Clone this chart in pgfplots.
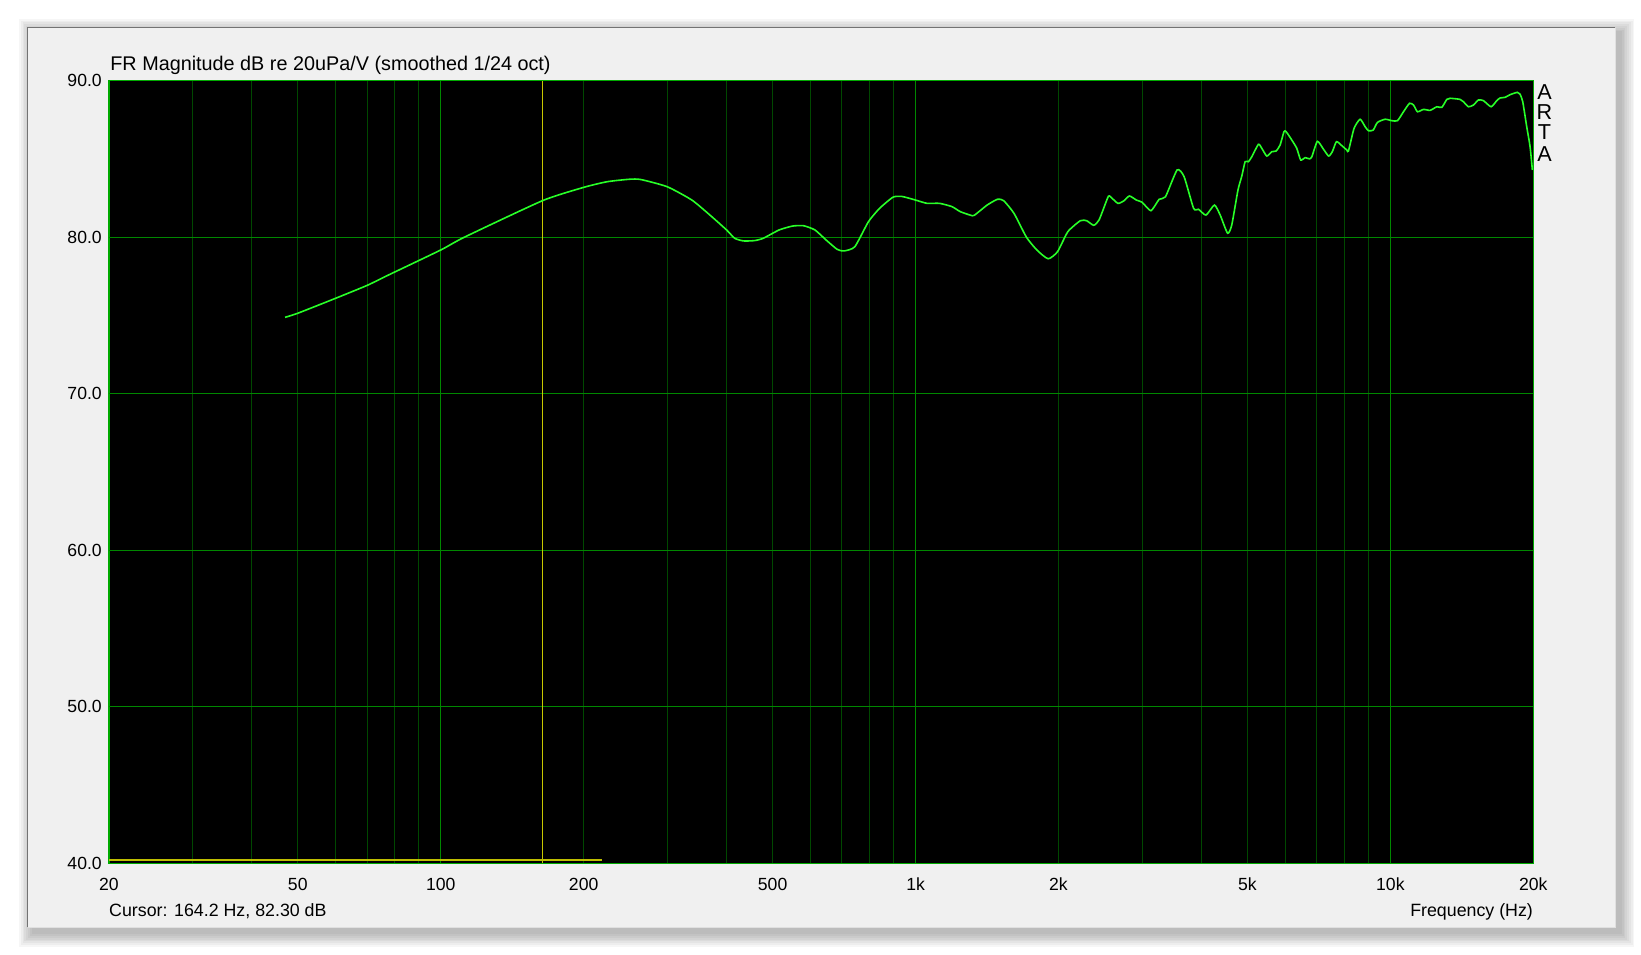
\documentclass[border=0pt]{standalone}
\usepackage{fontspec}
\setmainfont{Liberation Sans}
\usepackage{pgfplots}
\pgfplotsset{compat=1.18}
\definecolor{panel}{RGB}{240,240,240}
\definecolor{gridmin}{RGB}{0,72,0}
\definecolor{gridmaj}{RGB}{0,135,0}
\definecolor{framegreen}{RGB}{0,170,0}
\definecolor{curvegreen}{RGB}{40,255,40}
\definecolor{cursoryellow}{RGB}{200,200,0}
\definecolor{bandyellow}{RGB}{190,190,0}

\pgfplotstableread{
f dB
47.0 74.88
50 75.14
60 76.09
70 76.92
77.6 77.58
100 79.18
112.2 80.00
163.8 82.33
200 83.18
224 83.54
250 83.70
264 83.68
300 83.22
338 82.37
369 81.41
400 80.46
416 79.93
434 79.76
458 79.78
478 79.93
516 80.46
551 80.71
581 80.73
614 80.46
648 79.82
684 79.22
707 79.12
745 79.39
796 80.99
840 81.84
896 82.55
936 82.60
1000 82.37
1057 82.16
1123 82.16
1193 81.95
1242 81.63
1306 81.40
1330 81.40
1415 82.05
1488 82.42
1533 82.33
1612 81.52
1712 80.00
1801 79.18
1902 78.62
1991 79.07
2093 80.35
2223 81.05
2293 81.05
2372 80.76
2435 81.10
2536 82.48
2562 82.63
2667 82.16
2749 82.33
2821 82.63
2918 82.37
3000 82.23
3131 81.69
3259 82.42
3360 82.58
3555 84.29
3678 83.86
3851 81.84
3945 81.78
4090 81.41
4260 82.05
4381 81.41
4541 80.25
4634 80.78
4776 83.02
4865 83.90
4944 84.82
5023 84.82
5107 85.14
5273 85.93
5359 85.68
5492 85.18
5626 85.46
5744 85.50
5857 85.88
5970 86.74
6031 86.74
6198 86.21
6350 85.68
6474 84.93
6614 85.08
6755 85.00
6833 85.14
7019 86.12
7228 85.62
7415 85.18
7547 85.46
7700 86.10
7898 85.85
8093 85.57
8159 85.50
8385 86.95
8634 87.53
8846 87.06
8990 86.80
9200 86.84
9392 87.33
9751 87.53
10070 87.44
10350 87.44
10656 88.01
10972 88.55
11186 88.44
11404 88.01
11740 88.16
12126 88.10
12527 88.33
12833 88.29
13147 88.80
13360 88.87
14025 88.80
14250 88.65
14600 88.33
14958 88.44
15325 88.76
15700 88.72
16296 88.33
16751 88.72
17025 88.89
17440 88.93
17867 89.10
18514 89.25
18750 89.14
19000 88.65
19370 87.06
19690 85.78
19910 84.29
}\frdata

\begin{document}
\begin{tikzpicture}
\useasboundingbox (0,0) rectangle (820.5pt,477pt);
\fill[white] (0,0) rectangle (820.5pt,477pt);
% drop shadow
\foreach \i in {1,...,8} {
  \fill[black,opacity=0.035] ({(16.65-\i*0.9)*1pt},{(10.85-\i*0.9)*1pt}) rectangle ({(809.95+\i*0.9)*1pt},{(460.35+\i*0.9)*1pt});
}
% panel
\fill[panel] (14.15pt,13.35pt) rectangle (807.45pt,462.85pt);
\draw[black!55, line width=0.5pt] (13.9pt,13.35pt) -- (13.9pt,463.1pt) -- (807.45pt,463.1pt);
\draw[black!12, line width=0.5pt] (13.9pt,13.1pt) -- (807.7pt,13.1pt) -- (807.7pt,463.1pt);

\begin{axis}[
  at={(54.4pt,45.3pt)}, anchor=south west,
  scale only axis, width=712.25pt, height=391.4pt,
  xmode=log, xmin=20, xmax=20000, ymin=40, ymax=90,
  axis background/.style={fill=black},
  axis line style={draw=framegreen, line width=0.8pt},
  tick style={draw=none},
  major tick length=0pt, minor tick length=0pt,
  xtick={20,50,200,500,2000,5000,20000},
  xticklabels={20,50,200,500,2k,5k,20k},
  extra x ticks={100,1000,10000},
  extra x tick labels={100,1k,10k},
  extra x tick style={grid=major, major grid style={draw=gridmaj, line width=0.6pt}},
  minor xtick={30,40,60,70,80,90,300,400,600,700,800,900,3000,4000,6000,7000,8000,9000},
  xmajorgrids, xminorgrids,
  major grid style={draw=gridmin, line width=0.5pt},
  minor grid style={draw=gridmin, line width=0.5pt},
  ytick={40,50,...,90},
  extra y ticks={50,60,70,80},
  extra y tick labels={},
  extra y tick style={grid=major, major grid style={draw=gridmaj, line width=0.6pt}},
  yticklabel style={/pgf/number format/.cd, fixed, fixed zerofill, precision=1},
  /pgf/number format/assume math mode=true,
  tick label style={font=\fontsize{8.8}{10}\selectfont, text=black},
  xticklabel style={anchor=base, yshift=-13.3pt},
]
\addplot[cursoryellow, line width=0.5pt] coordinates {(164.2,40) (164.2,90)};
\addplot[bandyellow, line width=1.2pt] coordinates {(20,40.22) (219,40.22)};
\addplot[curvegreen, line width=0.8pt, smooth, tension=0.35] table[x=f, y=dB] {\frdata};
\end{axis}

\node[anchor=base west, inner sep=0pt, font=\fontsize{9.9}{12}\selectfont] at (55pt,441.5pt) {FR Magnitude dB re 20uPa/V (smoothed 1/24 oct)};
\node[anchor=base west, inner sep=0pt, font=\fontsize{8.9}{11}\selectfont] at (54.4pt,18.65pt) {Cursor: 164.2 Hz, 82.30 dB};
\node[anchor=base east, inner sep=0pt, font=\fontsize{8.9}{11}\selectfont] at (766.65pt,18.65pt) {Frequency (Hz)};
\node[anchor=base, inner sep=0pt, font=\fontsize{10.8}{12}\selectfont] at (772.25pt,427.35pt) {A};
\node[anchor=base, inner sep=0pt, font=\fontsize{10.8}{12}\selectfont] at (772.25pt,417pt) {R};
\node[anchor=base, inner sep=0pt, font=\fontsize{10.8}{12}\selectfont] at (772.25pt,407pt) {T};
\node[anchor=base, inner sep=0pt, font=\fontsize{10.8}{12}\selectfont] at (772.25pt,396.15pt) {A};
\end{tikzpicture}
\end{document}
